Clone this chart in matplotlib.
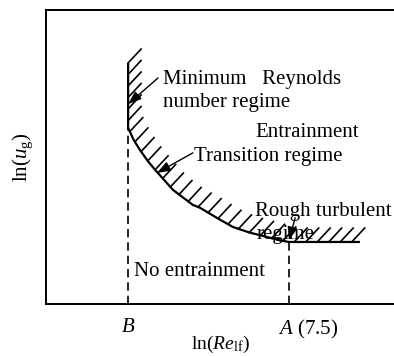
import numpy as np
import matplotlib
matplotlib.use("Agg")
import matplotlib.pyplot as plt
from matplotlib import transforms

plt.rcParams['font.family'] = ['Liberation Serif', 'DejaVu Serif']
plt.rcParams['mathtext.fontset'] = 'custom'
plt.rcParams['mathtext.rm'] = 'Liberation Serif'
plt.rcParams['mathtext.it'] = 'Liberation Serif:italic'

# schematic coordinates (arbitrary units on both axes)
x_B = 2.36
x_A = 6.98
y_top = 8.20
x_end = 9.02

# boundary curve (from the corner at B down to A)
curve_x = [2.36, 2.52, 2.70, 2.94, 3.19, 3.65, 4.22, 4.43, 4.91, 5.37, 5.85, 6.35, 6.70, 6.98]
curve_y = [5.99, 5.58, 5.24, 4.84, 4.49, 3.88, 3.37, 3.27, 2.93, 2.62, 2.43, 2.28, 2.17, 2.11]

tick_pos = [x_B, x_A]
tick_labels = ['$B$', '$A$ (7.5)']

fs = 15

fig = plt.figure(figsize=(3.94, 3.56), dpi=100)
ax = fig.add_axes([46/394, 52/356, 348/394, 294/356])
ax.set_xlim(0, 10)
ax.set_ylim(0, 10)
ax.spines['right'].set_visible(False)
for s in ['left', 'bottom', 'top']:
    ax.spines[s].set_linewidth(1.4)

# boundary: vertical part, curve, flat part
bx = [x_B] + curve_x + [x_end]
by = [y_top] + curve_y + [curve_y[-1]]
ax.plot(bx, by, color='k', lw=1.6, solid_capstyle='butt')

# dashed drop lines
ax.plot([x_B, x_B], [0, curve_y[0]], color='k', lw=1.2, dashes=(5, 3))
ax.plot([x_A, x_A], [0, curve_y[-1]], color='k', lw=1.2, dashes=(5, 3))

# hatch marks along the boundary, in pixel space
fig.canvas.draw()
pts = ax.transData.transform(np.column_stack([bx, by]))
seg = np.diff(pts, axis=0)
seglen = np.hypot(seg[:, 0], seg[:, 1])
cum = np.concatenate([[0], np.cumsum(seglen)])
step = 11.5
ang = np.deg2rad(47)
hl = 19.0
inv = ax.transData.inverted()
for s in np.arange(0, cum[-1] - 4, step):
    i = min(np.searchsorted(cum, s, side='right') - 1, len(seg) - 1)
    t = (s - cum[i]) / seglen[i]
    p0 = pts[i] + t * seg[i]
    p1 = p0 + hl * np.array([np.cos(ang), np.sin(ang)])
    d = inv.transform(np.array([p0, p1]))
    ax.plot(d[:, 0], d[:, 1], color='k', lw=1.2)

arrow = dict(arrowstyle='-|>,head_length=0.8,head_width=0.3', color='k', lw=1.0,
             shrinkA=0, shrinkB=0)

ax.annotate('', xy=(2.36, 6.80), xytext=(3.22, 7.69), arrowprops=arrow)
ax.annotate('', xy=(3.19, 4.46), xytext=(4.22, 5.14), arrowprops=arrow)
ax.annotate('', xy=(6.98, 2.17), xytext=(7.16, 2.93), arrowprops=arrow)

ax.text(3.36, 7.62, 'Minimum   Reynolds', fontsize=fs, va='center')
ax.text(3.36, 6.84, 'number regime', fontsize=fs, va='center')
ax.text(6.01, 5.82, 'Entrainment', fontsize=fs, va='center')
ax.text(4.25, 5.00, 'Transition regime', fontsize=fs, va='center')
ax.text(6.01, 3.16, 'Rough turbulent', fontsize=fs, va='center')
ax.text(6.06, 2.35, 'regime', fontsize=fs, va='center')
ax.text(2.53, 1.09, 'No entrainment', fontsize=fs, va='center')

ax.set_xticks(tick_pos)
ax.set_xticklabels(tick_labels, fontsize=fs)
ax.set_yticks([])
ax.tick_params(axis='x', length=0, pad=10)
lbl = ax.get_xticklabels()[1]
lbl.set_transform(lbl.get_transform() + transforms.ScaledTranslation(0.19, 0, fig.dpi_scale_trans))

ax.set_xlabel(r'ln($\mathit{Re}_{\mathrm{lf}}$)', fontsize=14)
ax.xaxis.set_label_coords(0.5, -0.10)
ax.set_ylabel(r'ln($u_{\mathrm{g}}$)', fontsize=fs, labelpad=8)

fig.savefig('out.png', dpi=100)
